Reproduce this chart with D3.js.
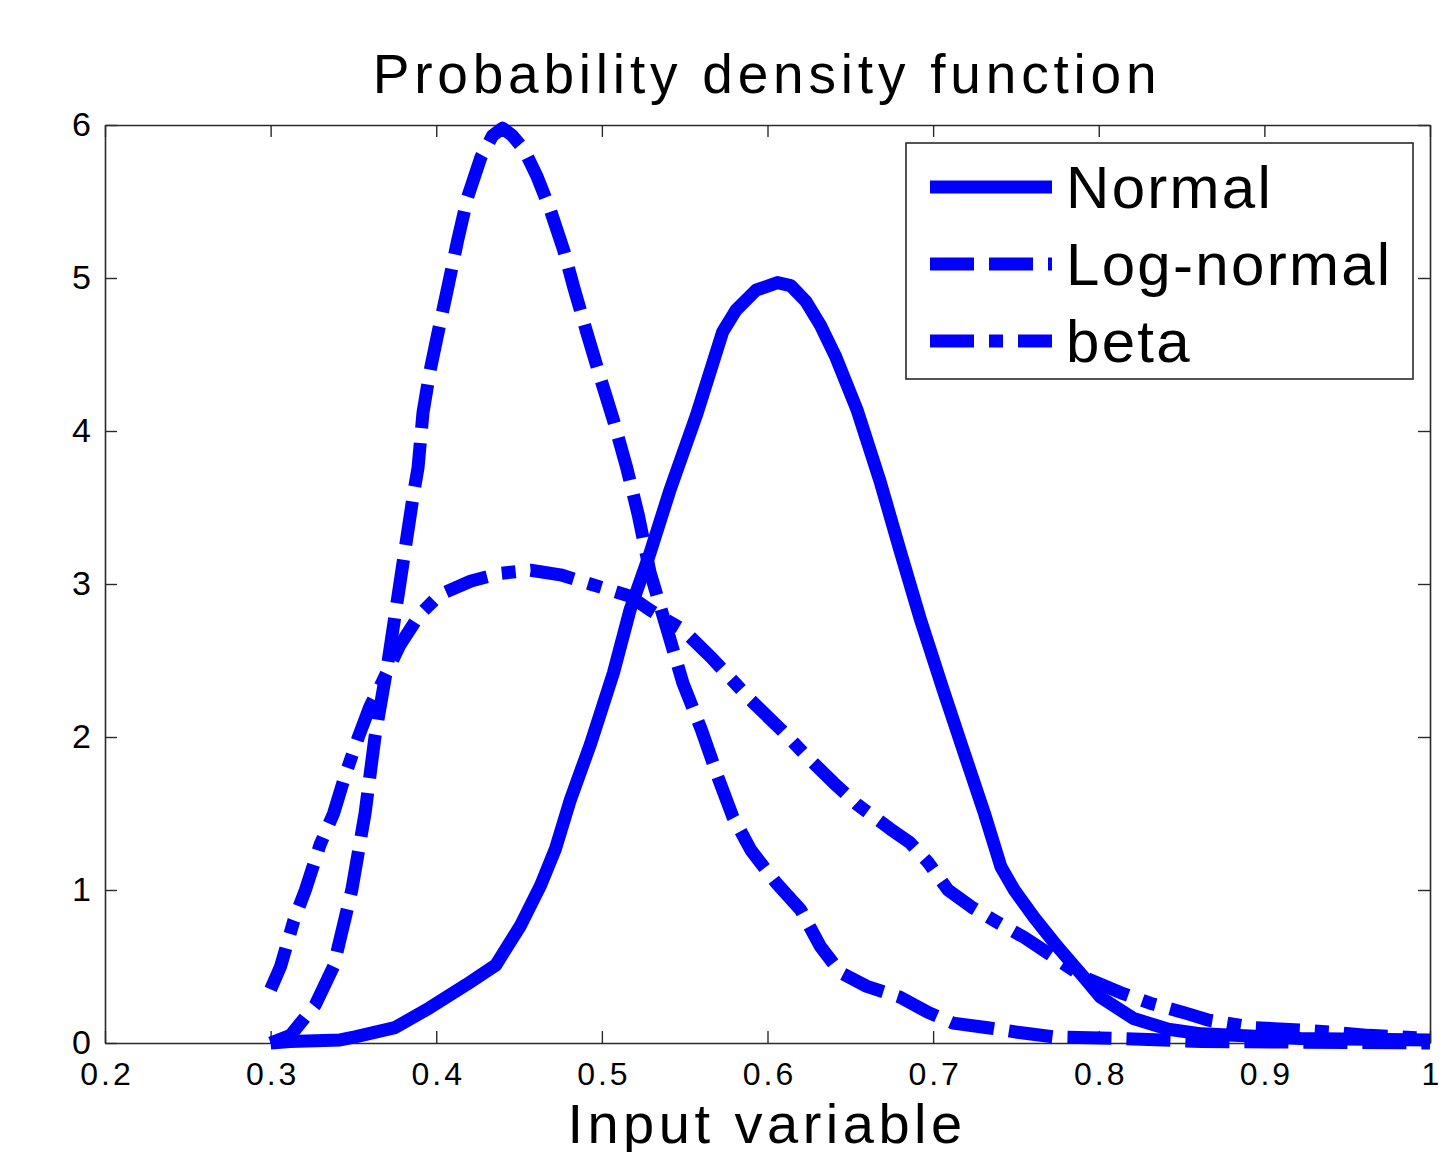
<!DOCTYPE html>
<html>
<head>
<meta charset="utf-8">
<script src="https://cdn.jsdelivr.net/npm/d3@7"></script>
<style>
  html, body { margin: 0; padding: 0; background: #fff; }
  svg { display: block; font-family: "Liberation Sans", Arial, Helvetica, sans-serif; }
</style>
</head>
<body>
<svg id="chart" width="1445" height="1152"></svg>
<script>
// ---------- data ----------
const xTicks = [0.2, 0.3, 0.4, 0.5, 0.6, 0.7, 0.8, 0.9, 1.0];
const yTicks = [0, 1, 2, 3, 4, 5, 6];
const seriesNames = ["Normal", "Log-normal", "beta"];

const normalX = [0.300,0.312,0.342,0.351,0.375,0.396,0.418,0.436,0.451,0.463,0.472,0.481,0.493,0.507,0.517,0.529,0.541,0.557,0.573,0.581,0.593,0.606,0.614,0.623,0.632,0.641,0.654,0.668,0.680,0.692,0.706,0.718,0.731,0.741,0.749,0.761,0.775,0.791,0.801,0.821,0.842,0.862,0.922,1.000];
const normalY = [0.00,0.01,0.02,0.04,0.10,0.23,0.38,0.51,0.77,1.03,1.27,1.59,1.95,2.42,2.83,3.20,3.61,4.10,4.65,4.79,4.92,4.97,4.95,4.85,4.69,4.49,4.14,3.67,3.22,2.78,2.31,1.92,1.50,1.15,1.00,0.82,0.63,0.43,0.30,0.16,0.09,0.06,0.03,0.02];

const lognormX = [0.300,0.312,0.327,0.338,0.349,0.357,0.363,0.371,0.378,0.386,0.389,0.392,0.396,0.401,0.407,0.413,0.419,0.427,0.434,0.440,0.446,0.453,0.461,0.469,0.477,0.483,0.491,0.499,0.507,0.515,0.522,0.529,0.540,0.549,0.560,0.570,0.579,0.590,0.605,0.620,0.632,0.644,0.660,0.680,0.697,0.712,0.733,0.751,0.773,0.811,0.862,1.000];
const lognormY = [0.00,0.05,0.25,0.50,1.00,1.50,2.00,2.50,3.00,3.57,3.76,4.12,4.38,4.64,4.94,5.25,5.53,5.79,5.93,5.98,5.93,5.84,5.66,5.44,5.18,4.94,4.64,4.35,4.07,3.76,3.45,3.08,2.68,2.35,2.05,1.74,1.48,1.26,1.05,0.87,0.63,0.46,0.37,0.30,0.20,0.13,0.10,0.07,0.04,0.03,0.01,0.00];

const betaX = [0.300,0.306,0.314,0.321,0.330,0.338,0.345,0.353,0.360,0.367,0.378,0.390,0.402,0.421,0.439,0.457,0.475,0.493,0.505,0.517,0.529,0.549,0.566,0.590,0.608,0.624,0.640,0.654,0.674,0.686,0.697,0.709,0.723,0.737,0.755,0.769,0.791,0.813,0.831,0.851,0.866,0.894,0.922,0.942,0.963,1.000];
const betaY = [0.35,0.50,0.80,1.00,1.30,1.50,1.75,2.00,2.20,2.35,2.60,2.80,2.93,3.02,3.07,3.09,3.06,3.00,2.96,2.92,2.83,2.70,2.52,2.24,2.05,1.87,1.70,1.56,1.40,1.31,1.18,1.00,0.89,0.80,0.69,0.59,0.43,0.33,0.26,0.20,0.15,0.10,0.085,0.07,0.05,0.03];

// ---------- layout ----------
const svg = d3.select("#chart");
const L = 105, R = 1430, T = 125, B = 1043;
const x = d3.scaleLinear().domain([0.2, 1.0]).range([L, R]);
const y = d3.scaleLinear().domain([0, 6]).range([B, T]);
const axisColor = "#2a2a2a";
const blue = "#0000ff";
const lw = 13;
const dashes = [null, "44,15", "44,15,14,15"];

svg.append("rect").attr("width", 1445).attr("height", 1152).attr("fill", "#fff");

// title
svg.append("text")
  .attr("x", 767).attr("y", 93)
  .attr("text-anchor", "middle")
  .attr("font-size", 55)
  .attr("letter-spacing", "4.8px")
  .attr("fill", "#000")
  .text("Probability density function");

// x label
svg.append("text")
  .attr("x", 767).attr("y", 1143)
  .attr("text-anchor", "middle")
  .attr("font-size", 56)
  .attr("letter-spacing", "4.5px")
  .attr("fill", "#000")
  .text("Input variable");

// axes
const fmt = d => d === 1 ? "1" : d3.format(".1f")(d);
const gB = svg.append("g").attr("transform", `translate(0,${B})`)
  .call(d3.axisBottom(x).tickValues(xTicks).tickFormat(fmt).tickSizeInner(-12).tickSizeOuter(0).tickPadding(19));
const gT = svg.append("g").attr("transform", `translate(0,${T})`)
  .call(d3.axisTop(x).tickValues(xTicks).tickFormat("").tickSizeInner(-12).tickSizeOuter(0));
const gL = svg.append("g").attr("transform", `translate(${L},0)`)
  .call(d3.axisLeft(y).tickValues(yTicks).tickFormat(d3.format("d")).tickSizeInner(-12).tickSizeOuter(0).tickPadding(14));
const gR = svg.append("g").attr("transform", `translate(${R},0)`)
  .call(d3.axisRight(y).tickValues(yTicks).tickFormat("").tickSizeInner(-12).tickSizeOuter(0));

[gB, gT, gL, gR].forEach(g => {
  g.select(".domain").attr("stroke", axisColor).attr("stroke-width", 1.6);
  g.selectAll(".tick line").attr("stroke", axisColor).attr("stroke-width", 1.4);
  g.selectAll(".tick text").attr("fill", "#000").attr("font-family", "Liberation Sans, Arial, sans-serif");
});
gB.selectAll(".tick text").attr("font-size", 32).attr("letter-spacing", "3px").attr("dx", "1.5px");
gL.selectAll(".tick text").attr("font-size", 34);

// curves
const series = [
  { name: seriesNames[0], xs: normalX, ys: normalY, dash: dashes[0] },
  { name: seriesNames[1], xs: lognormX, ys: lognormY, dash: dashes[1] },
  { name: seriesNames[2], xs: betaX, ys: betaY, dash: dashes[2] }
];
const line = d3.line().x(d => x(d[0])).y(d => y(d[1]));

series.forEach(s => {
  const pts = s.xs.map((v, i) => [v, s.ys[i]]);
  svg.append("path")
    .datum(pts)
    .attr("d", line)
    .attr("fill", "none")
    .attr("stroke", blue)
    .attr("stroke-width", lw)
    .attr("stroke-linejoin", "round")
    .attr("stroke-linecap", "butt")
    .attr("stroke-dasharray", s.dash);
});

// legend
const lg = svg.append("g");
lg.append("rect")
  .attr("x", 906).attr("y", 143).attr("width", 507).attr("height", 236)
  .attr("fill", "#fff").attr("stroke", axisColor).attr("stroke-width", 1.6);
series.forEach((s, i) => {
  const cy = 187 + i * 77;
  lg.append("line")
    .attr("x1", 930).attr("x2", 1052).attr("y1", cy).attr("y2", cy)
    .attr("stroke", blue).attr("stroke-width", lw)
    .attr("stroke-dasharray", s.dash);
  lg.append("text")
    .attr("x", 1066).attr("y", cy + 21)
    .attr("font-size", 60)
    .attr("letter-spacing", "2.3px")
    .attr("fill", "#000")
    .text(s.name);
});
</script>
</body>
</html>
